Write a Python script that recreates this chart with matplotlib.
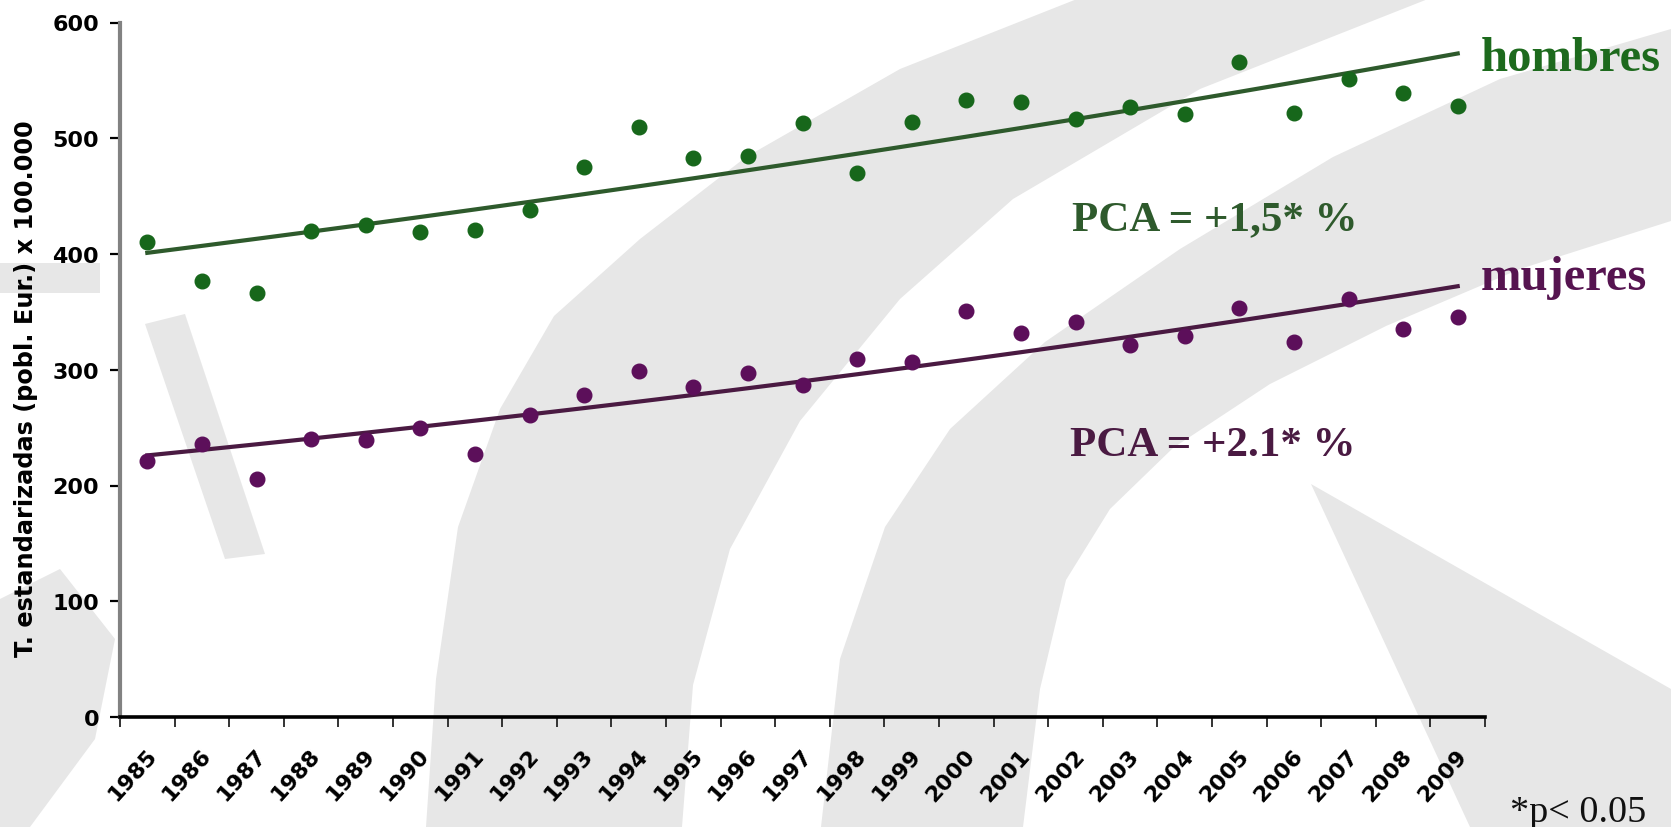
import numpy as np
import matplotlib
matplotlib.use('Agg')
import matplotlib.pyplot as plt
import matplotlib.transforms as mtransforms
from matplotlib.patches import Polygon

# ---------------------------------- Data ----------------------------------

years = ['1985', '1986', '1987', '1988', '1989', '1990', '1991', '1992', '1993',
         '1994', '1995', '1996', '1997', '1998', '1999', '2000', '2001', '2002',
         '2003', '2004', '2005', '2006', '2007', '2008', '2009']

# Standardised rates (European population) x 100.000
hombres = [410, 377, 366, 420, 425, 419, 421, 438, 475, 510, 483, 485, 513,
           470, 514, 533, 531, 517, 527, 521, 566, 522, 551, 539, 528]
mujeres = [221, 236, 206, 240, 239, 250, 227, 261, 278, 299, 285, 297, 287,
           309, 307, 351, 332, 341, 321, 329, 353, 324, 361, 335, 346]

# Annual percent change of each trend and the trend value in the first year
pca_hombres = 1.5
pca_mujeres = 2.1
inicio_hombres = 401
inicio_mujeres = 226

y_ticks = [0, 100, 200, 300, 400, 500, 600]

# ------------------------------- Styling ----------------------------------

W, H = 1671, 828
verde_punto = '#17671b'
verde_linea = '#2e5a2c'
verde_texto = '#1d6a1d'
morado_punto = '#5c0f5a'
morado_linea = '#4a1a42'
morado_texto = '#561450'
gris_marca = '#e7e7e7'

fig = plt.figure(figsize=(W / 100, H / 100), dpi=100)

# Background watermark, drawn in pixel coordinates of the figure
bg = fig.add_axes([0, 0, 1, 1], zorder=0)
bg.set_xlim(0, W)
bg.set_ylim(H, 0)
bg.axis('off')

watermark = [
    # outer curved band
    [(1077, 0), (900, 70), (746, 158), (640, 240), (554, 317), (500, 410), (458, 528),
     (436, 680), (426, 828),
     (682, 828), (693, 686), (730, 550), (800, 422), (900, 300), (1013, 200),
     (1200, 90), (1428, 0)],
    # inner curved band
    [(1671, 30), (1500, 80), (1333, 158), (1180, 250), (1045, 343), (950, 430),
     (885, 528), (840, 660), (821, 828),
     (1023, 828), (1040, 690), (1066, 581), (1110, 510), (1173, 449), (1270, 385),
     (1386, 327), (1520, 270), (1671, 222)],
    # lower right wedge
    [(1311, 485), (1470, 828), (1671, 828), (1671, 690)],
    # letter strokes on the left
    [(0, 264), (100, 264), (100, 294), (0, 294)],
    [(145, 325), (185, 315), (265, 555), (225, 560)],
    [(0, 600), (60, 570), (115, 640), (95, 740), (30, 828), (0, 828)],
]
for pts in watermark:
    bg.add_patch(Polygon(pts, closed=True, facecolor=gris_marca, edgecolor='none'))

# ------------------------------- Main axes --------------------------------

ax = fig.add_axes([120 / W, 1 - 718 / H, (1485 - 120) / W, (718 - 23.5) / H], zorder=1)
ax.set_facecolor('none')

x = np.arange(len(years)) + 0.5
t = np.arange(len(years))

# Exponential trend lines built from the annual percent change
trend_h = inicio_hombres * (1 + pca_hombres / 100) ** t
trend_m = inicio_mujeres * (1 + pca_mujeres / 100) ** t

ax.plot(x, trend_h, color=verde_linea, linewidth=3, zorder=2)
ax.plot(x, trend_m, color=morado_linea, linewidth=3, zorder=2)
ax.plot(x, hombres, 'o', color=verde_punto, markersize=10.5, zorder=3)
ax.plot(x, mujeres, 'o', color=morado_punto, markersize=10.5, zorder=3)

ax.set_xlim(0, len(years))
ax.set_ylim(0, 600)

# Axis lines
for side in ['top', 'right']:
    ax.spines[side].set_visible(False)
ax.spines['left'].set_color('#828282')
ax.spines['left'].set_linewidth(3)
ax.spines['bottom'].set_color('black')
ax.spines['bottom'].set_linewidth(2.6)

# Y axis ticks
ax.set_yticks(y_ticks)
ax.set_yticklabels([str(v) for v in y_ticks], fontsize=16, fontweight='bold',
                   family='DejaVu Sans')
ax.tick_params(axis='y', length=7, width=1.6, color='black', pad=8)

# X axis: ticks between years, labels under each year
ax.set_xticks(np.arange(len(years) + 1), minor=True)
ax.set_xticks(x)
ax.set_xticklabels(years, rotation=48, ha='right', va='top', fontsize=16,
                   fontweight='bold', family='DejaVu Sans')
ax.tick_params(axis='x', which='major', length=0, pad=20)
ax.tick_params(axis='x', which='minor', length=7, width=1.4, color='#333333')
shift = mtransforms.ScaledTranslation(0.13, 0, fig.dpi_scale_trans)
for lab in ax.get_xticklabels():
    lab.set_transform(lab.get_transform() + shift)

# ------------------------------- Texts ------------------------------------

fig.text(26 / W, 1 - 389 / H, 'T. estandarizadas (pobl. Eur.) x 100.000',
         rotation=90, ha='center', va='center', fontsize=17.3, fontweight='bold',
         family='DejaVu Sans')

serif = 'Liberation Serif'
fig.text(1481 / W, 1 - 71 / H, 'hombres', ha='left', va='baseline', fontsize=35,
         fontweight='bold', family=serif, color=verde_texto)
fig.text(1481 / W, 1 - 290 / H, 'mujeres', ha='left', va='baseline', fontsize=35,
         fontweight='bold', family=serif, color=morado_texto)
fig.text(1072 / W, 1 - 230 / H, 'PCA = +1,5* %', ha='left', va='baseline', fontsize=31,
         fontweight='bold', family=serif, color=verde_linea)
fig.text(1070 / W, 1 - 456 / H, 'PCA = +2.1* %', ha='left', va='baseline', fontsize=31,
         fontweight='bold', family=serif, color=morado_linea)
fig.text(1510 / W, 1 - 822 / H, '*p< 0.05', ha='left', va='baseline', fontsize=27.5,
         family=serif, color='#111111')

fig.savefig('out.png', dpi=100, facecolor='white')
